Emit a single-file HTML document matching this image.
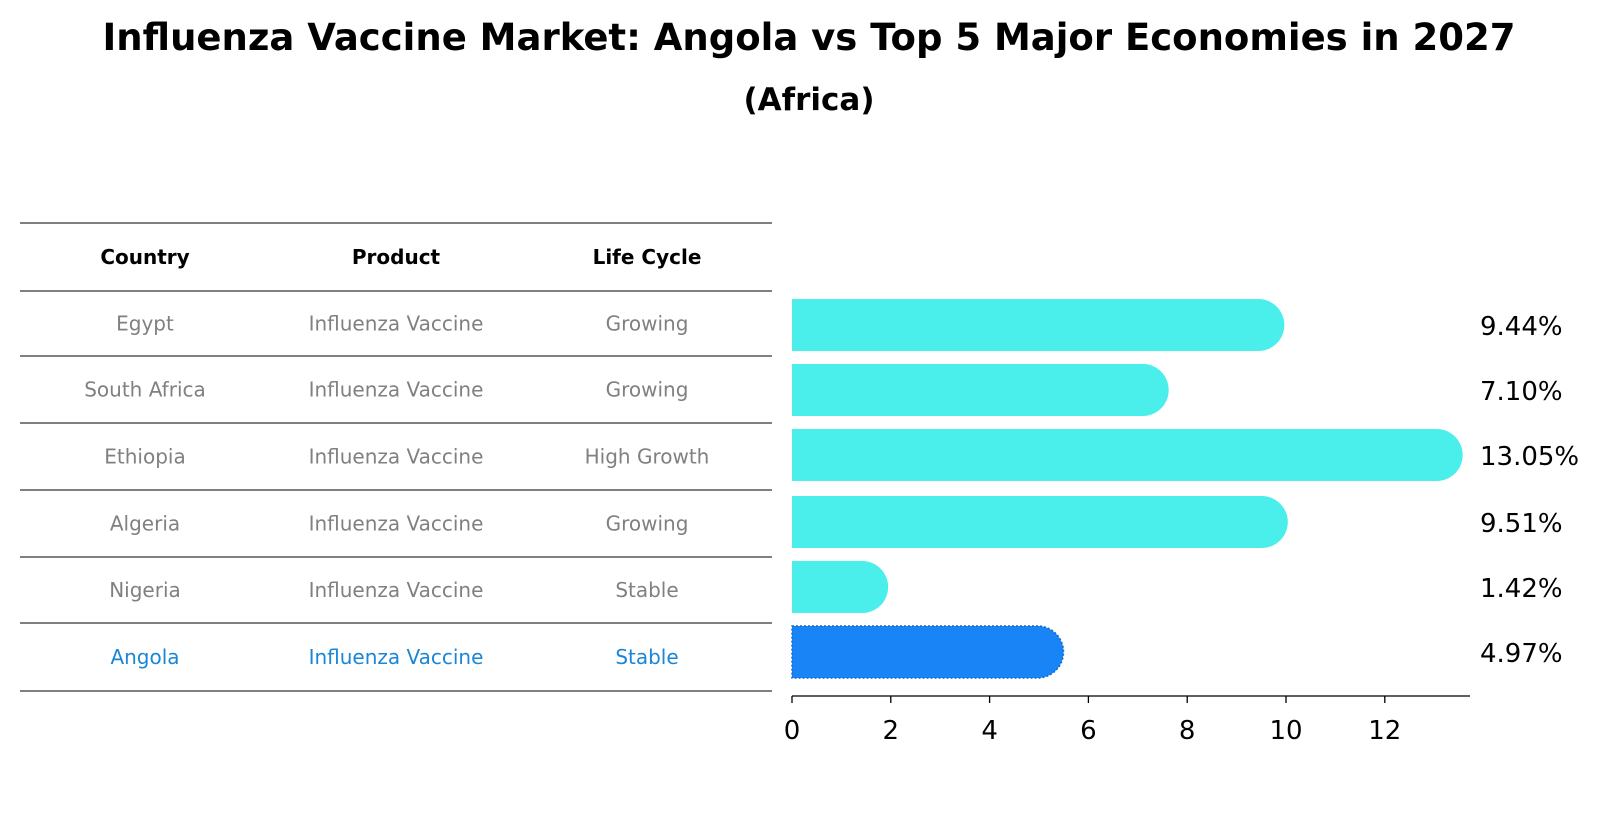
<!DOCTYPE html>
<html><head><meta charset="utf-8"><style>
html,body{margin:0;padding:0;background:#fff}
svg{display:block;font-family:"DejaVu Sans","Liberation Sans",sans-serif}
</style></head><body>
<svg id="chart" width="1604" height="823" viewBox="0 0 1604 823">
<text x="809" y="50" text-anchor="middle" font-size="37" font-weight="bold">Influenza Vaccine Market: Angola vs Top 5 Major Economies in 2027</text>
<text x="809" y="110" text-anchor="middle" font-size="31" font-weight="bold">(Africa)</text>
<g id="table"></g>
<g id="bars"></g>
</svg>
<script>
const countries=["Egypt","South Africa","Ethiopia","Algeria","Nigeria","Angola"];
const products=["Influenza Vaccine","Influenza Vaccine","Influenza Vaccine","Influenza Vaccine","Influenza Vaccine","Influenza Vaccine"];
const lifeCycles=["Growing","Growing","High Growth","Growing","Stable","Stable"];
const values=[9.44,7.10,13.05,9.51,1.42,4.97];
const valueLabels=["9.44%","7.10%","13.05%","9.51%","1.42%","4.97%"];
const xTicks=[0,2,4,6,8,10,12];

const NS="http://www.w3.org/2000/svg";
function mk(tag,attrs,parent){const e=document.createElementNS(NS,tag);for(const k in attrs)e.setAttribute(k,attrs[k]);parent.appendChild(e);return e;}
const table=document.getElementById('table');
const bars=document.getElementById('bars');
const lineYs=[223,291,356,423,490,557,623,691];
const colX=[145,396,647];
lineYs.forEach((y,i)=>{const l=mk('line',{x1:20,x2:772,y1:y,y2:y,stroke:'#000','stroke-width':1},table);

});
["Country","Product","Life Cycle"].forEach((h,i)=>{const t=mk('text',{x:colX[i],y:(lineYs[0]+lineYs[1])/2+7,'text-anchor':'middle','font-size':20,'font-weight':'bold'},table);t.textContent=h;

});
const x0=792,sc=49.4;
function xs(v){return x0+v*sc;}
const rowC=i=>(lineYs[i+1]+lineYs[i+2])/2;
const barC=[325,390,455,522,587,652];
countries.forEach((c,i)=>{
  const col=i===countries.length-1?'#1a86d6':'#808080';
  [c,products[i],lifeCycles[i]].forEach((s,j)=>{const t=mk('text',{x:colX[j],y:rowC(i)+7,'text-anchor':'middle','font-size':20,fill:col},table);t.textContent=s;
  
  });
  const cy=barC[i],h=52,isA=i===countries.length-1;
  const fill=isA?'#1984f5':'#4aeeea';
  const w=xs(values[i])-x0;
  const p=mk('path',{d:`M${x0},${cy-h/2} H${x0+w} A${h/2},${h/2} 0 0 1 ${x0+w},${cy+h/2} H${x0} Z`,fill:fill},bars);
  if(isA){p.setAttribute('stroke','#1468d0');p.setAttribute('stroke-dasharray','2,2');p.setAttribute('stroke-width','1.5');}
  
  
  const t=mk('text',{x:1480,y:cy+10,'font-size':26},bars);t.textContent=valueLabels[i];
  
  
});
const ax=mk('line',{x1:x0,x2:1470,y1:696,y2:696,stroke:'#000','stroke-width':1.3},bars);


xTicks.forEach(v=>{const l=mk('line',{x1:xs(v),x2:xs(v),y1:696,y2:703,stroke:'#000','stroke-width':1.3},bars);


const t=mk('text',{x:xs(v),y:739,'text-anchor':'middle','font-size':26},bars);t.textContent=v;

});
</script>
</body></html>
